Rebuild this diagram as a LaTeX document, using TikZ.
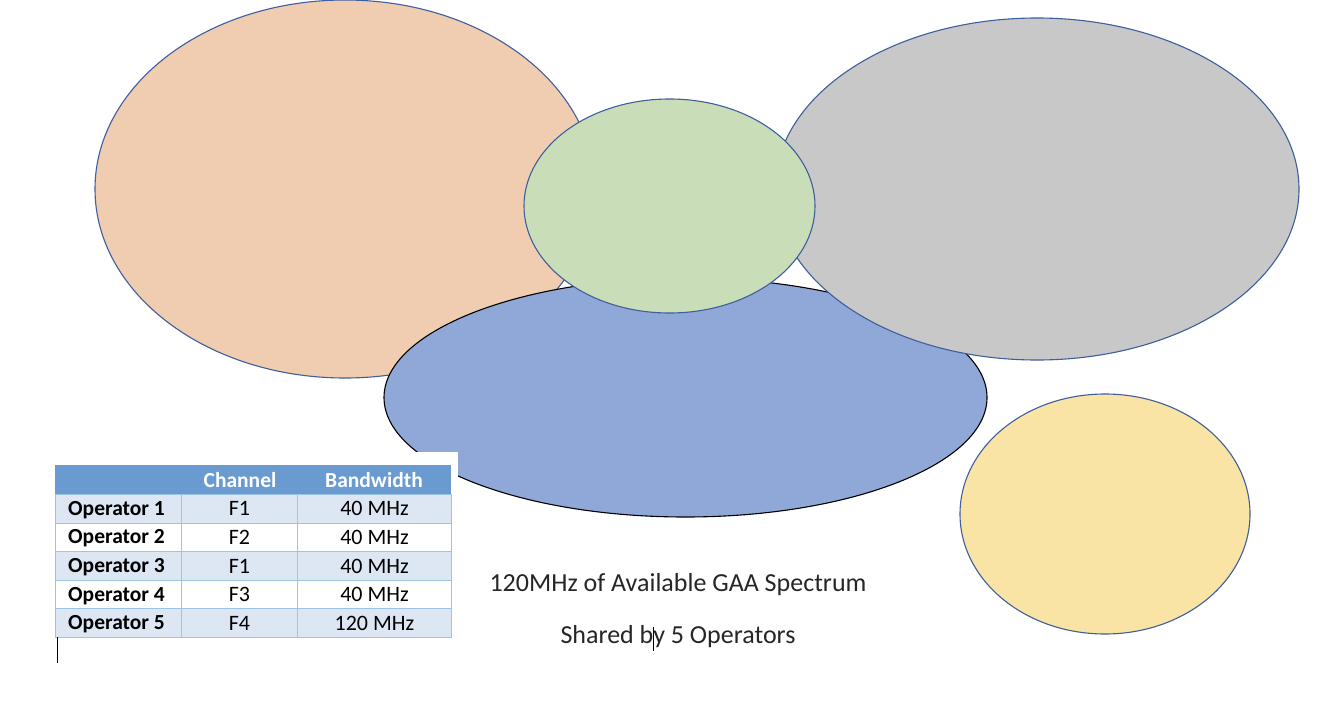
\documentclass[tikz,border=0pt]{standalone}
\usepackage{fontspec}
\setmainfont{Carlito}
\usetikzlibrary{shapes.geometric}
\definecolor{orangefill}{HTML}{F0CDB0}
\definecolor{greenfill}{HTML}{C9DEB8}
\definecolor{grayfill}{HTML}{C8C8C8}
\definecolor{bluefill}{HTML}{90A8D7}
\definecolor{yellowfill}{HTML}{F9E4A5}
\definecolor{edgeblue}{HTML}{3F5E9C}
\definecolor{headblue}{HTML}{6A9BD0}
\definecolor{rowblue}{HTML}{DDE7F3}
\definecolor{gridblue}{HTML}{9DC3E6}
\tikzset{
  blob/.style={ellipse, draw=edgeblue, line width=1.1pt, inner sep=0pt},
  cell/.style={draw=gridblue, line width=1pt, inner sep=0pt, font=\fontsize{22}{26}\selectfont},
  hcell/.style={inner sep=0pt, font=\fontsize{21.5}{26}\selectfont\bfseries, text=white},
  caption/.style={inner sep=0pt, font=\fontsize{26}{30}\selectfont, text=black!85}
}
\begin{document}
\begin{tikzpicture}[x=1pt,y=-1pt]
\useasboundingbox[fill=white] (0,0) rectangle (1322,704);
% ellipses (back to front)
\node[blob, fill=orangefill, minimum width=500pt, minimum height=378pt] (orange) at (345,189) {};
\node[blob, fill=bluefill, draw=black, minimum width=603pt, minimum height=239pt] (blue) at (685.5,397.5) {};
\node[blob, fill=grayfill, minimum width=524pt, minimum height=342pt] (gray) at (1037,189) {};
\node[blob, fill=greenfill, minimum width=291pt, minimum height=214pt] (green) at (669.5,206) {};
\node[blob, fill=yellowfill, minimum width=290pt, minimum height=240pt] (yellow) at (1105,514) {};
% white backdrop of the table
\fill[white] (40,452) rectangle (458,641);
% table header
\fill[headblue] (55,465) rectangle (451,494);
\node[hcell] (hch) at (240,480) {Channel};
\node[hcell] (hbw) at (374,480) {Bandwidth};
% rows
\foreach \i/\op/\ch/\bw/\fc in {0/Operator 1/F1/40 MHz/rowblue,1/Operator 2/F2/40 MHz/white,2/Operator 3/F1/40 MHz/rowblue,3/Operator 4/F3/40 MHz/white,4/Operator 5/F4/120 MHz/rowblue}{
  \pgfmathsetmacro{\ytop}{494+28.6*\i}
  \pgfmathsetmacro{\ybase}{\ytop+14.3+7}
  \node[cell, fill=\fc, minimum width=126pt, minimum height=28.6pt, anchor=north west] (op\i) at (55,\ytop) {};
  \node[cell, fill=\fc, minimum width=116pt, minimum height=28.6pt, anchor=north west] (ch\i) at (181,\ytop) {\ch};
  \node[cell, fill=\fc, minimum width=154pt, minimum height=28.6pt, anchor=north west] (bw\i) at (297,\ytop) {\bw};
  \node[inner sep=0pt, anchor=base west, font=\fontsize{21.5}{26}\selectfont\bfseries] (opt\i) at (68,\ybase) {\op};
}
% captions
\node[caption] (cap1) at (678,585) {120MHz of Available GAA Spectrum};
\node[caption] (cap2) at (678,637) {Shared by 5 Operators};
% text cursors
\coordinate (c1a) at (57,637);
\coordinate (c1b) at (57,663);
\draw[black, line width=0.9pt] (c1a) -- (c1b);
\coordinate (c2a) at (653,627);
\coordinate (c2b) at (653,651);
\draw[black, line width=0.9pt] (c2a) -- (c2b);
\end{tikzpicture}
\end{document}
